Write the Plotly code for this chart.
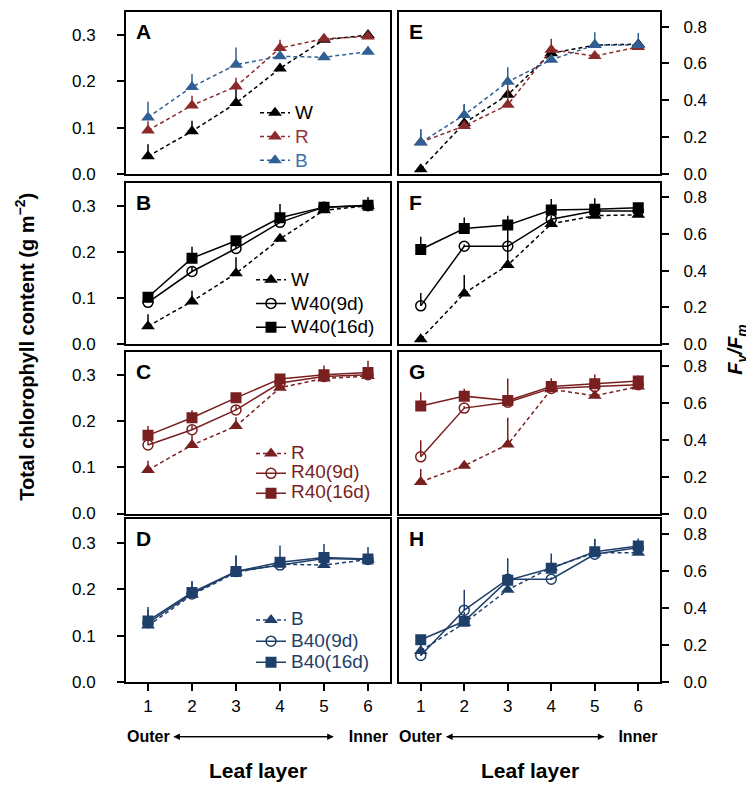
import plotly.graph_objects as go

W_PX, H_PX = 754, 791
FONT = "Liberation Sans, Arial, sans-serif"

layers = [1, 2, 3, 4, 5, 6]
tick_labels = ["1", "2", "3", "4", "5", "6"]

# ---- Total chlorophyll content (g m-2) ----
chl_W = [0.038, 0.092, 0.153, 0.228, 0.290, 0.300]
chl_W_err = [0.026, 0.023, 0.035, 0.010, 0.010, 0.010]
chl_R = [0.094, 0.148, 0.189, 0.272, 0.292, 0.297]
chl_R_err = [0.020, 0.021, 0.019, 0.018, 0.010, 0.012]
chl_B = [0.122, 0.188, 0.236, 0.254, 0.252, 0.264]
chl_B_err = [0.034, 0.028, 0.037, 0.010, 0.010, 0.012]

chl_W40_9d = [0.090, 0.157, 0.207, 0.264, 0.297, 0.300]
chl_W40_9d_err = [0.010, 0.010, 0.010, 0.020, 0.010, 0.010]
chl_W40_16d = [0.101, 0.186, 0.224, 0.274, 0.297, 0.301]
chl_W40_16d_err = [0.010, 0.025, 0.010, 0.030, 0.010, 0.018]

chl_R40_9d = [0.148, 0.181, 0.224, 0.282, 0.296, 0.300]
chl_R40_9d_err = [0.010, 0.010, 0.010, 0.010, 0.010, 0.010]
chl_R40_16d = [0.169, 0.207, 0.250, 0.291, 0.300, 0.305]
chl_R40_16d_err = [0.020, 0.016, 0.010, 0.010, 0.020, 0.025]

chl_B40_9d = [0.128, 0.190, 0.238, 0.252, 0.266, 0.264]
chl_B40_9d_err = [0.010, 0.010, 0.010, 0.010, 0.010, 0.010]
chl_B40_16d = [0.132, 0.193, 0.238, 0.258, 0.268, 0.265]
chl_B40_16d_err = [0.030, 0.025, 0.033, 0.036, 0.029, 0.026]

# ---- Fv/Fm ----
fv_W = [0.025, 0.275, 0.430, 0.655, 0.700, 0.705]
fv_W_err = [0.005, 0.100, 0.010, 0.020, 0.020, 0.020]
fv_R = [0.172, 0.260, 0.375, 0.675, 0.640, 0.690]
fv_R_err = [0.070, 0.010, 0.145, 0.060, 0.020, 0.020]
fv_B = [0.170, 0.320, 0.500, 0.620, 0.700, 0.700]
fv_B_err = [0.070, 0.060, 0.080, 0.020, 0.070, 0.065]

fv_W40_9d = [0.207, 0.533, 0.533, 0.681, 0.725, 0.726]
fv_W40_9d_err = [0.070, 0.010, 0.110, 0.020, 0.020, 0.020]
fv_W40_9d_errlo = [0.0, 0.0, 0.110, 0.0, 0.0, 0.0]
fv_W40_16d = [0.515, 0.630, 0.649, 0.731, 0.735, 0.744]
fv_W40_16d_err = [0.070, 0.060, 0.050, 0.060, 0.060, 0.020]

fv_R40_9d = [0.308, 0.573, 0.605, 0.680, 0.690, 0.700]
fv_R40_9d_err = [0.090, 0.010, 0.010, 0.010, 0.010, 0.010]
fv_R40_16d = [0.584, 0.638, 0.614, 0.690, 0.705, 0.720]
fv_R40_16d_err = [0.075, 0.040, 0.120, 0.020, 0.050, 0.030]

fv_B40_9d = [0.145, 0.390, 0.557, 0.557, 0.692, 0.728]
fv_B40_9d_err = [0.010, 0.110, 0.010, 0.010, 0.010, 0.010]
fv_B40_16d = [0.230, 0.330, 0.551, 0.616, 0.706, 0.737]
fv_B40_16d_err = [0.010, 0.010, 0.120, 0.080, 0.070, 0.040]

# colours
BLACK = "#000000"
RED_A = "#8b2a2a"
BLUE_A = "#2f5f93"
RED_C = "#7a1f1f"
BLUE_D = "#1f3f6b"
RED_TXT = "#933636"
BLUE_TXT = "#3f72aa"

# geometry (pixels)
COLS = [(118, 382), (391, 652)]
ROWS = [(4, 168), (177, 340), (348, 512), (518, 683)]


def fx(px):
    return px / W_PX


def fy(py):
    return 1 - py / H_PX


fig = go.Figure()

panels = [
    ("A", 0, 0, [("W", chl_W, chl_W_err, None, BLACK, "tri", "dash", BLACK),
                 ("R", chl_R, chl_R_err, None, RED_A, "tri", "dash", RED_TXT),
                 ("B", chl_B, chl_B_err, None, BLUE_A, "tri", "dash", BLUE_TXT)]),
    ("E", 1, 0, [("W", fv_W, fv_W_err, None, BLACK, "tri", "dash", BLACK),
                 ("R", fv_R, fv_R_err, None, RED_A, "tri", "dash", RED_TXT),
                 ("B", fv_B, fv_B_err, None, BLUE_A, "tri", "dash", BLUE_TXT)]),
    ("B", 0, 1, [("W", chl_W, chl_W_err, None, BLACK, "tri", "dash", BLACK),
                 ("W40(9d)", chl_W40_9d, chl_W40_9d_err, None, BLACK, "circ", "solid", BLACK),
                 ("W40(16d)", chl_W40_16d, chl_W40_16d_err, None, BLACK, "sq", "solid", BLACK)]),
    ("F", 1, 1, [("W", fv_W, fv_W_err, None, BLACK, "tri", "dash", BLACK),
                 ("W40(9d)", fv_W40_9d, fv_W40_9d_err, fv_W40_9d_errlo, BLACK, "circ", "solid", BLACK),
                 ("W40(16d)", fv_W40_16d, fv_W40_16d_err, None, BLACK, "sq", "solid", BLACK)]),
    ("C", 0, 2, [("R", chl_R, chl_R_err, None, RED_C, "tri", "dash", RED_C),
                 ("R40(9d)", chl_R40_9d, chl_R40_9d_err, None, RED_C, "circ", "solid", RED_C),
                 ("R40(16d)", chl_R40_16d, chl_R40_16d_err, None, RED_C, "sq", "solid", RED_C)]),
    ("G", 1, 2, [("R", fv_R, fv_R_err, None, RED_C, "tri", "dash", RED_C),
                 ("R40(9d)", fv_R40_9d, fv_R40_9d_err, None, RED_C, "circ", "solid", RED_C),
                 ("R40(16d)", fv_R40_16d, fv_R40_16d_err, None, RED_C, "sq", "solid", RED_C)]),
    ("D", 0, 3, [("B", chl_B, chl_B_err, None, BLUE_D, "tri", "dash", BLUE_D),
                 ("B40(9d)", chl_B40_9d, chl_B40_9d_err, None, BLUE_D, "circ", "solid", BLUE_D),
                 ("B40(16d)", chl_B40_16d, chl_B40_16d_err, None, BLUE_D, "sq", "solid", BLUE_D)]),
    ("H", 1, 3, [("B", fv_B, fv_B_err, None, BLUE_D, "tri", "dash", BLUE_D),
                 ("B40(9d)", fv_B40_9d, fv_B40_9d_err, None, BLUE_D, "circ", "solid", BLUE_D),
                 ("B40(16d)", fv_B40_16d, fv_B40_16d_err, None, BLUE_D, "sq", "solid", BLUE_D)]),
]

# legend: (left px, top px, row-spacing font size)
legend_pos = {0: (247, 89, 16), 1: (243, 258, 16), 2: (243, 436, 13), 3: (243, 604, 14)}
legend_names = {0: "legend", 1: "legend2", 2: "legend3", 3: "legend4"}

annotations = []
for i, (letter, col, row, series) in enumerate(panels):
    n = i + 1
    xa = "x" if n == 1 else f"x{n}"
    ya = "y" if n == 1 else f"y{n}"
    x0, x1 = COLS[col]
    y0, y1 = ROWS[row]
    bottom = row == 3
    xkey = "xaxis" if n == 1 else f"xaxis{n}"
    ykey = "yaxis" if n == 1 else f"yaxis{n}"
    fig.layout[xkey] = dict(
        domain=[fx(x0), fx(x1)], anchor=ya, range=[0.5, 6.5],
        showline=True, linecolor="black", linewidth=2, mirror=True,
        showgrid=False, zeroline=False,
        tickvals=layers, ticktext=tick_labels,
        ticks="outside" if bottom else "", ticklen=7, tickwidth=1.5, tickcolor="black",
        showticklabels=bottom, tickfont=dict(size=17, color="black", family=FONT),
    )
    if col == 0:
        yr = [0, 0.35]
        tv = [0.0, 0.1, 0.2, 0.3]
        side = "left"
        standoff = 18
    else:
        yr = [0, 0.88]
        tv = [0.0, 0.2, 0.4, 0.6, 0.8]
        side = "right"
        standoff = 11
    fig.layout[ykey] = dict(
        domain=[fy(y1), fy(y0)], anchor=xa, range=yr, side=side,
        showline=True, linecolor="black", linewidth=2, mirror=True,
        showgrid=False, zeroline=False,
        tickvals=tv, tickformat=".1f", ticks="outside", ticklen=7, tickwidth=1.5,
        tickcolor="black", ticklabelstandoff=standoff,
        tickfont=dict(size=17, color="black", family=FONT),
    )
    for (name, vals, err, errlo, color, mk, dash, txtcol) in series:
        if mk == "tri":
            marker = dict(symbol="triangle-up", size=12, color=color)
        elif mk == "sq":
            marker = dict(symbol="square", size=11, color=color)
        else:
            marker = dict(symbol="circle-open", size=10, color=color, line=dict(width=1.5, color=color))
        show = col == 0
        fig.add_trace(go.Scatter(
            x=layers, y=vals, xaxis=xa, yaxis=ya, mode="lines+markers",
            line=dict(color=color, width=1.5, dash="4px,3px" if dash == "dash" else "solid"),
            marker=marker,
            error_y=dict(type="data", symmetric=False, array=err,
                         arrayminus=errlo if errlo is not None else [0] * len(err),
                         color=color, thickness=1.5, width=0),
            name=f"<span style='color:{txtcol};font-size:19px'>{name}</span>",
            showlegend=show, legend=legend_names[row] if show else None,
        ))
    annotations.append(dict(
        x=fx(x0 + 8), y=fy(y0 + 6), xref="paper", yref="paper",
        xanchor="left", yanchor="top", showarrow=False,
        text=f"<b>{letter}</b>", font=dict(size=21, color="black", family=FONT),
    ))

for row, (lx, ly, fs) in legend_pos.items():
    key = legend_names[row]
    fig.layout[key] = dict(
        x=fx(lx), y=fy(ly), xanchor="left", yanchor="top",
        bgcolor="rgba(0,0,0,0)", borderwidth=0,
        font=dict(size=fs, family=FONT, color="black"),
        itemwidth=30, tracegroupgap=0,
    )

# axis titles
annotations.append(dict(
    x=fx(17), y=fy(343), xref="paper", yref="paper", showarrow=False,
    xanchor="center", yanchor="middle",
    textangle=-90, text="<b>Total chlorophyll content (g m<sup>−2</sup>)</b>",
    font=dict(size=20, color="black", family=FONT),
))
annotations.append(dict(
    x=fx(729), y=fy(346), xref="paper", yref="paper", showarrow=False,
    xanchor="center", yanchor="middle",
    textangle=-90, text="<b><i>F</i></b><sub><b><i>v</i></b></sub><b><i>/F</i></b><sub><b><i>m</i></b></sub>",
    font=dict(size=20, color="black", family=FONT),
))

# bottom labels
OUTER_W, INNER_W, GAP = 42.7, 39.1, 4
ARROW_Y = 738
for (x0, x1) in COLS:
    cx = (x0 + x1) / 2
    step = (x1 - x0) / 6.0
    oc = x0 + step * 0.5        # "Outer" centred under layer 1
    ic = x0 + step * 5.5        # "Inner" centred under layer 6
    lh = oc + OUTER_W / 2 + GAP  # left arrow head
    rh = x0 + step * 4.72        # right arrow head
    inner_pad = max(ic - INNER_W / 2 - rh, 1)
    annotations.append(dict(
        x=fx(cx), y=fy(772), xref="paper", yref="paper", showarrow=False,
        xanchor="center", yanchor="middle",
        text="<b>Leaf layer</b>", font=dict(size=21, color="black", family=FONT),
    ))
    annotations.append(dict(
        x=fx(rh), y=fy(ARROW_Y), xref="paper", yref="paper",
        ax=oc - rh, ay=0, axref="pixel", ayref="pixel",
        xanchor="center", yanchor="middle", borderpad=GAP,
        showarrow=True, arrowhead=2, arrowsize=1, arrowwidth=1.3,
        arrowcolor="black", standoff=0,
        text="<b>Outer</b>", font=dict(size=16, color="black", family=FONT),
    ))
    annotations.append(dict(
        x=fx(lh), y=fy(ARROW_Y), xref="paper", yref="paper",
        ax=ic - lh, ay=0, axref="pixel", ayref="pixel",
        xanchor="center", yanchor="middle", borderpad=inner_pad,
        showarrow=True, arrowhead=2, arrowsize=1, arrowwidth=1.3,
        arrowcolor="black", standoff=0,
        text="<b>Inner</b>", font=dict(size=16, color="black", family=FONT),
    ))

fig.update_layout(
    width=W_PX, height=H_PX, margin=dict(l=0, r=0, t=0, b=0),
    paper_bgcolor="white", plot_bgcolor="white",
    font=dict(family=FONT, color="black"),
    annotations=annotations, showlegend=True,
)

fig.write_html("out.html")
